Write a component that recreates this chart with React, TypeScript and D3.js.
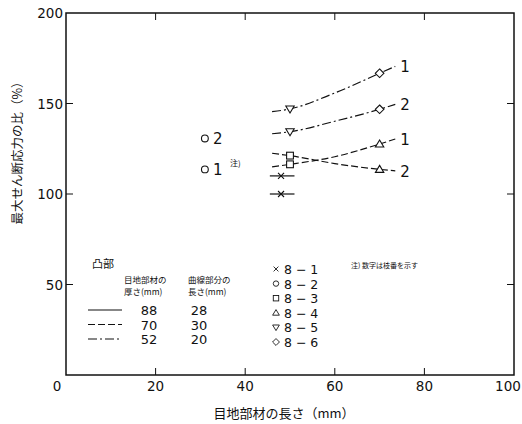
import React from 'react';
import * as d3 from 'd3';

// axis ticks
const xTicks = [0, 20, 40, 60, 80, 100];
const yTicks = [0, 50, 100, 150, 200];

// fitted curves (joint length vs ratio)
const curveX = [46, 50, 60, 70, 73.5];
const dashDot1 = [145.5, 147, 155.8, 166.7, 170.5];
const dashDot2 = [133.3, 134.4, 140.2, 146.8, 149.5];
const dashed1 = [115, 116.4, 120.6, 127.6, 130.4];
const dashed2 = [122.5, 121.2, 116.8, 113.6, 112.8];
const solidX = [45.5, 51];
const solidY = [110, 100];

// measured points per specimen
const p81 = { x: [48, 48], y: [110, 100] };
const p82 = { x: [31, 31], y: [113.6, 130.7], lab: ['1', '2'] };
const p83 = { x: [50, 50], y: [121.2, 116.4] };
const p84 = { x: [70, 70], y: [127.6, 113.6] };
const p85 = { x: [50, 50], y: [147, 134.4] };
const p86 = { x: [70, 70], y: [166.7, 146.8] };

const legendSeries = ['8 − 1', '8 − 2', '8 − 3', '8 − 4', '8 − 5', '8 − 6'];
const legendThick = ['88', '70', '52'];
const legendLen = ['28', '30', '20'];

const W = 522, H = 424;
const num = '"DejaVu Sans", sans-serif';
const jp = '"Noto Sans CJK JP", sans-serif';
const DASH = '7 3';
const DASHDOT = '9 3 2 3';

const Marker = ({ type, cx, cy }: { type: string; cx: number; cy: number }) => {
  const s = 3.4;
  const st = { fill: 'white', stroke: '#111', strokeWidth: 1.1 };
  if (type === 'x')
    return <path d={`M${cx - 3},${cy - 3}L${cx + 3},${cy + 3}M${cx - 3},${cy + 3}L${cx + 3},${cy - 3}`} stroke="#111" strokeWidth={1.1} />;
  if (type === 'o') return <circle cx={cx} cy={cy} r={s} {...st} />;
  if (type === 's') return <rect x={cx - s} y={cy - s} width={s * 2} height={s * 2} {...st} />;
  if (type === 't') return <path d={`M${cx},${cy - 4}L${cx + 4.2},${cy + 3}L${cx - 4.2},${cy + 3}Z`} {...st} />;
  if (type === 'v') return <path d={`M${cx},${cy + 4}L${cx + 4.2},${cy - 3}L${cx - 4.2},${cy - 3}Z`} {...st} />;
  return <path d={`M${cx},${cy - 4.3}L${cx + 4.3},${cy}L${cx},${cy + 4.3}L${cx - 4.3},${cy}Z`} {...st} />;
};

export default function App() {
  const x = d3.scaleLinear().domain([0, 100]).range([66, 514]);
  const y = d3.scaleLinear().domain([0, 200]).range([375, 13]);
  const line = d3.line<[number, number]>().x(d => x(d[0])).y(d => y(d[1])).curve(d3.curveMonotoneX);
  const path = (xs: number[], ys: number[]) => line(xs.map((v, i) => [v, ys[i]]) as [number, number][]) || '';

  const curves = [
    { ys: dashDot1, dash: DASHDOT, lab: '1' },
    { ys: dashDot2, dash: DASHDOT, lab: '2' },
    { ys: dashed1, dash: DASH, lab: '1' },
    { ys: dashed2, dash: DASH, lab: '2' },
  ];
  const markers = [
    { t: 'x', p: p81 }, { t: 'o', p: p82 }, { t: 's', p: p83 },
    { t: 't', p: p84 }, { t: 'v', p: p85 }, { t: 'd', p: p86 },
  ];
  const legendTypes = ['x', 'o', 's', 't', 'v', 'd'];
  const sampleDash = ['none', DASH, DASHDOT];

  // keep the last tick label inside the page
  const xLabelPos = (t: number) => (t === 0 ? x(0) - 9 : t === 100 ? x(100) - 6 : x(t));

  return (
    <svg width={W} height={H} style={{ position: 'absolute', left: 0, top: 0, background: 'white' }}>
      {/* frame */}
      <rect x={x(0)} y={y(200)} width={x(100) - x(0)} height={y(0) - y(200)} fill="none" stroke="#111" strokeWidth={1.5} />
      {xTicks.slice(1, -1).map(t => (
        <g key={'xt' + t} stroke="#111" strokeWidth={1}>
          <line x1={x(t)} x2={x(t)} y1={y(0)} y2={y(0) - 7} />
          <line x1={x(t)} x2={x(t)} y1={y(200)} y2={y(200) + 7} />
        </g>
      ))}
      {yTicks.slice(1, -1).map(t => (
        <g key={'yt' + t} stroke="#111" strokeWidth={1}>
          <line x1={x(0)} x2={x(0) + 7} y1={y(t)} y2={y(t)} />
          <line x1={x(100)} x2={x(100) - 7} y1={y(t)} y2={y(t)} />
        </g>
      ))}
      {/* the corner "0" is shared by both axes */}
      {xTicks.map(t => (
        <text key={'xl' + t} x={xLabelPos(t)} y={y(0) + 16} textAnchor="middle" fontFamily={num} fontSize={13.5} fill="#111">{t}</text>
      ))}
      {yTicks.slice(1).map(t => (
        <text key={'yl' + t} x={x(0) - 3} y={y(t) + 5} textAnchor="end" fontFamily={num} fontSize={13.5} fill="#111">{t}</text>
      ))}
      <text x={284} y={418} textAnchor="middle" fontFamily={jp} fontSize={13} fill="#111">目地部材の長さ（mm）</text>
      <text transform="translate(22,150) rotate(-90)" textAnchor="middle" fontFamily={jp} fontSize={12.5} fill="#111">最大せん断応力の比（%）</text>

      {/* curves */}
      {curves.map((c, i) => (
        <g key={'c' + i}>
          <path d={path(curveX, c.ys)} fill="none" stroke="#111" strokeWidth={1.2} strokeDasharray={c.dash} />
          <text x={x(curveX[curveX.length - 1]) + 5} y={y(c.ys[c.ys.length - 1]) + 6} fontFamily={num} fontSize={15} fill="#111">{c.lab}</text>
        </g>
      ))}
      {solidY.map((v, i) => (
        <path key={'s' + i} d={path(solidX, [v, v])} stroke="#111" strokeWidth={1.2} fill="none" />
      ))}
      {markers.map(m => m.p.x.map((xv, i) => (
        <Marker key={m.t + i} type={m.t} cx={x(xv)} cy={y(m.p.y[i])} />
      )))}
      {p82.lab.map((l, i) => (
        <text key={'l82' + i} x={x(p82.x[i]) + 8} y={y(p82.y[i]) + 6} fontFamily={num} fontSize={15} fill="#111">{l}</text>
      ))}
      <text x={230} y={166} fontFamily={jp} fontSize={8} fill="#111">注)</text>
      <text x={351} y={268} fontFamily={jp} fontSize={7} fill="#111">注) 数字は枝番を示す</text>

      {/* legend left */}
      <text x={92} y={268} fontFamily={jp} fontSize={11} fill="#111">凸部</text>
      <text x={124} y={283} fontFamily={jp} fontSize={8.5} fill="#111">目地部材の</text>
      <text x={124} y={295} fontFamily={jp} fontSize={8.5} fill="#111">厚さ(mm)</text>
      <text x={188} y={283} fontFamily={jp} fontSize={8.5} fill="#111">曲線部分の</text>
      <text x={188} y={295} fontFamily={jp} fontSize={8.5} fill="#111">長さ(mm)</text>
      {legendThick.map((t, i) => {
        const ry = 310 + i * 14.5;
        return (
          <g key={'lg' + i}>
            <line x1={88} x2={122} y1={ry} y2={ry} stroke="#111" strokeWidth={1.2} strokeDasharray={sampleDash[i]} />
            <text x={149} y={ry + 5} textAnchor="middle" fontFamily={num} fontSize={13} fill="#111">{t}</text>
            <text x={199} y={ry + 5} textAnchor="middle" fontFamily={num} fontSize={13} fill="#111">{legendLen[i]}</text>
          </g>
        );
      })}
      {/* legend right */}
      {legendSeries.map((s, i) => {
        const ry = 269 + i * 14.6;
        return (
          <g key={'ls' + i}>
            <g transform={`translate(${276},${ry}) scale(0.8) translate(${-276},${-ry})`}>
              <Marker type={legendTypes[i]} cx={276} cy={ry} />
            </g>
            <text x={284} y={ry + 5} fontFamily={num} fontSize={12.5} fill="#111">{s}</text>
          </g>
        );
      })}
    </svg>
  );
}
